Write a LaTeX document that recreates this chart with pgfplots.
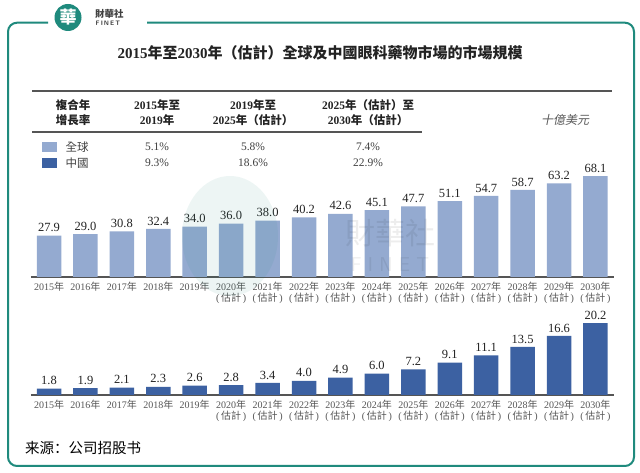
\documentclass[border=0pt]{standalone}
\usepackage{fontspec}
\usepackage{pgfplots}
\pgfplotsset{compat=1.18}
\setmainfont{Liberation Serif}
\newfontfamily\cjk{Noto Sans CJK TC}
\newfontfamily\cjksc{Noto Sans CJK SC}
\newfontfamily\cjkit[FakeSlant=0.2]{Noto Sans CJK TC}
\definecolor{topblue}{RGB}{148,170,208}
\definecolor{botblue}{RGB}{60,97,162}
\definecolor{frame}{RGB}{31,138,125}
\definecolor{txt}{RGB}{35,35,35}
\definecolor{axgray}{RGB}{85,85,85}
\newcommand{\Y}[1]{#1{\cjk 年}}
\newcommand{\E}[1]{#1{\cjk 年}\\(\,{\cjk 估計}\,)}
\pgfplotsset{mybars/.style={
  scale only axis, width=582.9pt,
  xmin=-0.5, xmax=15.5, ymin=0, enlarge x limits=false,
  axis y line=none, axis x line*=bottom,
  x axis line style={axgray, line width=1.3pt},
  xtick={0,...,15}, major tick length=0pt,
  xticklabels={\Y{2015},\Y{2016},\Y{2017},\Y{2018},\Y{2019},\E{2020},\E{2021},\E{2022},\E{2023},\E{2024},\E{2025},\E{2026},\E{2027},\E{2028},\E{2029},\E{2030}},
  xticklabel style={font=\fontsize{10}{11}\selectfont, align=center, text=axgray, inner sep=2pt, yshift=-3pt},
  ybar, bar width=24.5pt, clip=false,
  nodes near coords={\pgfmathprintnumber[fixed,fixed zerofill,precision=1,assume math mode=true]{\pgfplotspointmeta}},
  nodes near coords style={font=\fontsize{12.5}{14}\selectfont, text=txt, inner sep=3.5pt},
}}
\begin{document}
\begin{tikzpicture}[x=1pt,y=1pt]
\path[use as bounding box, fill=white] (0,0) rectangle (640,473);
% frame
\draw[frame, line width=2pt, rounded corners=9pt] (48,450.3) -- (8,450.3) -- (8,7) -- (634,7) -- (634,450.3) -- (147,450.3);
% logo
\fill[frame] (68,455.5) circle (13.5);
\node[text=white, font=\fontsize{17}{17}\selectfont\cjk\bfseries] at (68,455.5) {華};
\node[anchor=west, text=black!75, font=\fontsize{9.5}{10}\selectfont\cjk\bfseries, inner sep=0] at (95,459) {財華社};
\node[anchor=west, text=black!75, font=\fontsize{6.5}{7}\selectfont\sffamily\bfseries, inner sep=0] at (95.5,450) {F\,I\,N\,E\,T};
% title
\node[text=txt, font=\fontsize{15}{17}\selectfont\bfseries] at (320,420) {2015{\cjk 年至}2030{\cjk 年（估計）全球及中國眼科藥物市場的市場規模}};
% table
\draw[axgray, line width=1.2pt] (32,382) -- (612,382);
\draw[axgray, line width=1.2pt] (32,341) -- (422,341);
\begin{scope}[every node/.style={text=txt, align=center, font=\fontsize{11.5}{15}\selectfont\bfseries}]
\node at (73,360.5) {{\cjk 複合年}\\{\cjk 增長率}};
\node at (157,360.5) {2015{\cjk 年至}\\2019{\cjk 年}};
\node at (253,360.5) {2019{\cjk 年至}\\2025{\cjk 年（估計）}};
\node at (368,360.5) {2025{\cjk 年（估計）至}\\2030{\cjk 年（估計）}};
\end{scope}
\node[text=black!65, font=\fontsize{12}{14}\selectfont\cjkit] at (565,353) {十億美元};
\fill[topblue] (42,321) rectangle (57,331);
\fill[botblue] (42,305) rectangle (57,315);
\begin{scope}[every node/.style={text=black!75, font=\fontsize{11.5}{14}\selectfont}]
\node[anchor=west] at (62,326) {\cjk 全球};
\node[anchor=west] at (62,310) {\cjk 中國};
\node at (157,326) {5.1\%};
\node at (253,326) {5.8\%};
\node at (368,326) {7.4\%};
\node at (157,310) {9.3\%};
\node at (253,310) {18.6\%};
\node at (368,310) {22.9\%};
\end{scope}
% top chart
\begin{axis}[mybars, at={(30.8pt,196pt)}, anchor=south west, ymax=75, height=111.2pt]
\addplot[fill=topblue, draw=none] coordinates {(0,27.9) (1,29.0) (2,30.8) (3,32.4) (4,34.0) (5,36.0) (6,38.0) (7,40.2) (8,42.6) (9,45.1) (10,47.7) (11,51.1) (12,54.7) (13,58.7) (14,63.2) (15,68.1)};
\end{axis}
% bottom chart
\begin{axis}[mybars, at={(30.8pt,78pt)}, anchor=south west, ymax=25, height=89pt]
\addplot[fill=botblue, draw=none] coordinates {(0,1.8) (1,1.9) (2,2.1) (3,2.3) (4,2.6) (5,2.8) (6,3.4) (7,4.0) (8,4.9) (9,6.0) (10,7.2) (11,9.1) (12,11.1) (13,13.5) (14,16.6) (15,20.2)};
\end{axis}
% watermark
\fill[frame, opacity=0.08] (230,237) ellipse (48 and 60);
\node[text=black, opacity=0.07, font=\fontsize{30}{30}\selectfont\cjk, inner sep=0pt] at (390,240) {財華社};
\node[text=black, opacity=0.07, font=\fontsize{20}{20}\selectfont\sffamily, inner sep=0pt] at (390,208) {F I N E T};
% source
\node[anchor=west, text=black, font=\fontsize{14.5}{16}\selectfont\cjksc, inner sep=0] at (25,25) {来源：公司招股书};
\end{tikzpicture}
\end{document}
